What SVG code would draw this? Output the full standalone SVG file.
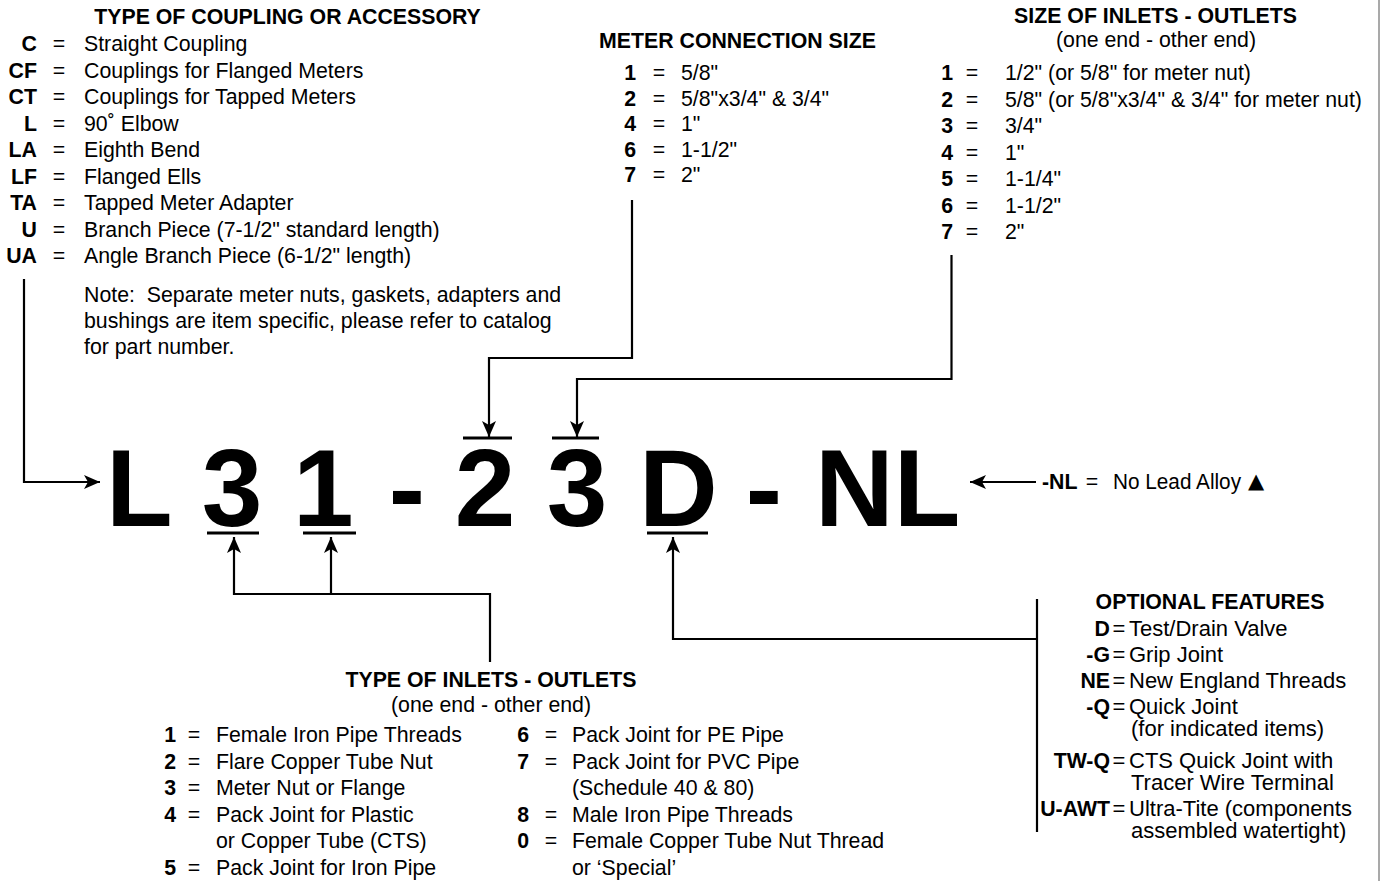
<svg xmlns="http://www.w3.org/2000/svg" width="1380" height="881" viewBox="0 0 1380 881">
<style>
.t{font-family:"Liberation Sans",Arial,Helvetica,sans-serif;font-size:21.3px;fill:#000}
.o{font-size:22px}
.b{font-weight:bold}
.r{text-anchor:end}
.m{text-anchor:middle}
.big{font-family:"Liberation Sans",Arial,Helvetica,sans-serif;font-size:109px;font-weight:bold;fill:#000}
.ln{stroke:#000;stroke-width:2.2;fill:none}
.bar{stroke:#000;stroke-width:3}
</style>
<defs>
<marker id="ah" markerUnits="userSpaceOnUse" markerWidth="17" markerHeight="15" viewBox="0 -7.5 17 15" refX="16" refY="0" orient="auto">
<path d="M0,-7 L16,0 L0,7 L4,0 Z" fill="#000"/>
</marker>
</defs>
<rect width="1380" height="881" fill="#fff"/>
<line x1="1379" y1="0" x2="1379" y2="881" stroke="#8c8c8c" stroke-width="1.5"/>

<g id="coupling">
<text x="287.5" y="24" class="t b m">TYPE OF COUPLING OR ACCESSORY</text>
<text x="37" y="51" class="t b r">C</text><text x="59" y="51" class="t m">=</text><text x="84" y="51" class="t">Straight Coupling</text>
<text x="37" y="77.5" class="t b r">CF</text><text x="59" y="77.5" class="t m">=</text><text x="84" y="77.5" class="t">Couplings for Flanged Meters</text>
<text x="37" y="104" class="t b r">CT</text><text x="59" y="104" class="t m">=</text><text x="84" y="104" class="t">Couplings for Tapped Meters</text>
<text x="37" y="130.5" class="t b r">L</text><text x="59" y="130.5" class="t m">=</text><text x="84" y="130.5" class="t">90˚ Elbow</text>
<text x="37" y="157" class="t b r">LA</text><text x="59" y="157" class="t m">=</text><text x="84" y="157" class="t">Eighth Bend</text>
<text x="37" y="183.5" class="t b r">LF</text><text x="59" y="183.5" class="t m">=</text><text x="84" y="183.5" class="t">Flanged Ells</text>
<text x="37" y="210" class="t b r">TA</text><text x="59" y="210" class="t m">=</text><text x="84" y="210" class="t">Tapped Meter Adapter</text>
<text x="37" y="236.5" class="t b r">U</text><text x="59" y="236.5" class="t m">=</text><text x="84" y="236.5" class="t">Branch Piece (7-1/2" standard length)</text>
<text x="37" y="263" class="t b r">UA</text><text x="59" y="263" class="t m">=</text><text x="84" y="263" class="t">Angle Branch Piece (6-1/2" length)</text>
<text x="84" y="302" class="t">Note:&#160; Separate meter nuts, gaskets, adapters and</text>
<text x="84" y="328" class="t">bushings are item specific, please refer to catalog</text>
<text x="84" y="354" class="t">for part number.</text>
</g>

<g id="meter-size">
<text x="737.5" y="48" class="t b m">METER CONNECTION SIZE</text>
<text x="636" y="80" class="t b r">1</text><text x="659" y="80" class="t m">=</text><text x="681" y="80" class="t">5/8"</text>
<text x="636" y="105.5" class="t b r">2</text><text x="659" y="105.5" class="t m">=</text><text x="681" y="105.5" class="t">5/8"x3/4" &amp; 3/4"</text>
<text x="636" y="131" class="t b r">4</text><text x="659" y="131" class="t m">=</text><text x="681" y="131" class="t">1"</text>
<text x="636" y="156.5" class="t b r">6</text><text x="659" y="156.5" class="t m">=</text><text x="681" y="156.5" class="t">1-1/2"</text>
<text x="636" y="182" class="t b r">7</text><text x="659" y="182" class="t m">=</text><text x="681" y="182" class="t">2"</text>
</g>

<g id="inlet-size">
<text x="1155.5" y="22.5" class="t b m">SIZE OF INLETS - OUTLETS</text>
<text x="1156" y="47" class="t m">(one end - other end)</text>
<text x="953" y="80" class="t b r">1</text><text x="972" y="80" class="t m">=</text><text x="1005" y="80" class="t">1/2" (or 5/8" for meter nut)</text>
<text x="953" y="106.5" class="t b r">2</text><text x="972" y="106.5" class="t m">=</text><text x="1005" y="106.5" class="t">5/8" (or 5/8"x3/4" &amp; 3/4" for meter nut)</text>
<text x="953" y="133" class="t b r">3</text><text x="972" y="133" class="t m">=</text><text x="1005" y="133" class="t">3/4"</text>
<text x="953" y="159.5" class="t b r">4</text><text x="972" y="159.5" class="t m">=</text><text x="1005" y="159.5" class="t">1"</text>
<text x="953" y="186" class="t b r">5</text><text x="972" y="186" class="t m">=</text><text x="1005" y="186" class="t">1-1/4"</text>
<text x="953" y="212.5" class="t b r">6</text><text x="972" y="212.5" class="t m">=</text><text x="1005" y="212.5" class="t">1-1/2"</text>
<text x="953" y="239" class="t b r">7</text><text x="972" y="239" class="t m">=</text><text x="1005" y="239" class="t">2"</text>
</g>

<g id="code">
<text id="c-L" x="106" y="526" class="big">L</text>
<text id="c-3a" x="232" y="526" class="big m">3</text>
<text id="c-1" x="293" y="526" class="big">1</text>
<text id="c-d1" x="407" y="526" class="big m">-</text>
<text id="c-2" x="485" y="526" class="big m">2</text>
<text id="c-3b" x="577" y="526" class="big m">3</text>
<text id="c-D" x="639" y="526" class="big">D</text>
<text id="c-d2" x="764" y="526" class="big m">-</text>
<text id="c-NL" x="815" y="526" class="big">NL</text>
<line x1="207" y1="533" x2="259" y2="533" class="bar"/>
<line x1="303" y1="533" x2="356" y2="533" class="bar"/>
<line x1="463" y1="438" x2="512" y2="438" class="bar"/>
<line x1="552" y1="438" x2="599" y2="438" class="bar"/>
<line x1="647" y1="533" x2="708" y2="533" class="bar"/>
</g>

<g id="no-lead">
<text x="1042" y="489" class="t b">-NL</text>
<text x="1092" y="489" class="t m">=</text>
<text x="1113" y="489" class="t" textLength="128" lengthAdjust="spacingAndGlyphs">No Lead Alloy</text>
<text x="1248" y="488" class="t" style="font-family:'DejaVu Sans',sans-serif;font-size:21px">▲</text>
</g>

<g id="inlet-type">
<text x="491" y="687" class="t b m">TYPE OF INLETS - OUTLETS</text>
<text x="491" y="711.5" class="t m">(one end - other end)</text>
<text x="176" y="742" class="t b r">1</text><text x="194" y="742" class="t m">=</text><text x="216" y="742" class="t">Female Iron Pipe Threads</text>
<text x="176" y="768.5" class="t b r">2</text><text x="194" y="768.5" class="t m">=</text><text x="216" y="768.5" class="t">Flare Copper Tube Nut</text>
<text x="176" y="795" class="t b r">3</text><text x="194" y="795" class="t m">=</text><text x="216" y="795" class="t">Meter Nut or Flange</text>
<text x="176" y="821.5" class="t b r">4</text><text x="194" y="821.5" class="t m">=</text><text x="216" y="821.5" class="t">Pack Joint for Plastic</text>
<text x="216" y="848" class="t">or Copper Tube (CTS)</text>
<text x="176" y="874.5" class="t b r">5</text><text x="194" y="874.5" class="t m">=</text><text x="216" y="874.5" class="t">Pack Joint for Iron Pipe</text>
<text x="529" y="742" class="t b r">6</text><text x="551" y="742" class="t m">=</text><text x="572" y="742" class="t">Pack Joint for PE Pipe</text>
<text x="529" y="768.5" class="t b r">7</text><text x="551" y="768.5" class="t m">=</text><text x="572" y="768.5" class="t">Pack Joint for PVC Pipe</text>
<text x="572" y="795" class="t">(Schedule 40 &amp; 80)</text>
<text x="529" y="821.5" class="t b r">8</text><text x="551" y="821.5" class="t m">=</text><text x="572" y="821.5" class="t">Male Iron Pipe Threads</text>
<text x="529" y="848" class="t b r">0</text><text x="551" y="848" class="t m">=</text><text x="572" y="848" class="t">Female Copper Tube Nut Thread</text>
<text x="572" y="874.5" class="t">or ‘Special’</text>
</g>

<g id="optional">
<text x="1210" y="609" class="t b m">OPTIONAL FEATURES</text>
<text x="1110" y="636" class="t b r">D</text><text x="1119" y="636" class="t o m">=</text><text x="1129" y="636" class="t o">Test/Drain Valve</text>
<text x="1110" y="662" class="t b r">-G</text><text x="1119" y="662" class="t o m">=</text><text x="1129" y="662" class="t o">Grip Joint</text>
<text x="1110" y="688" class="t b r">NE</text><text x="1119" y="688" class="t o m">=</text><text x="1129" y="688" class="t o">New England Threads</text>
<text x="1110" y="714" class="t b r">-Q</text><text x="1119" y="714" class="t o m">=</text><text x="1129" y="714" class="t o">Quick Joint</text>
<text x="1131" y="736" class="t o">(for indicated items)</text>
<text x="1110" y="768" class="t b r">TW-Q</text><text x="1119" y="768" class="t o m">=</text><text x="1129" y="768" class="t o">CTS Quick Joint with</text>
<text x="1131" y="789.5" class="t o">Tracer Wire Terminal</text>
<text x="1110" y="816" class="t b r">U-AWT</text><text x="1119" y="816" class="t o m">=</text><text x="1129" y="816" class="t o">Ultra-Tite (components</text>
<text x="1131" y="838" class="t o">assembled watertight)</text>
</g>

<g id="connectors">
<path class="ln" d="M24,279 V482 H100" marker-end="url(#ah)"/>
<path class="ln" d="M632,200 V358 H489 V437" marker-end="url(#ah)"/>
<path class="ln" d="M951.5,255 V379 H577 V437" marker-end="url(#ah)"/>
<path class="ln" d="M490,662 V594 H234 V537" marker-end="url(#ah)"/>
<path class="ln" d="M331,594 V537" marker-end="url(#ah)"/>
<path class="ln" d="M1037,639 H673 V537" marker-end="url(#ah)"/>
<path class="ln" d="M1037,599 V832"/>
<path class="ln" d="M1036,482 H970" marker-end="url(#ah)"/>
</g>
</svg>
